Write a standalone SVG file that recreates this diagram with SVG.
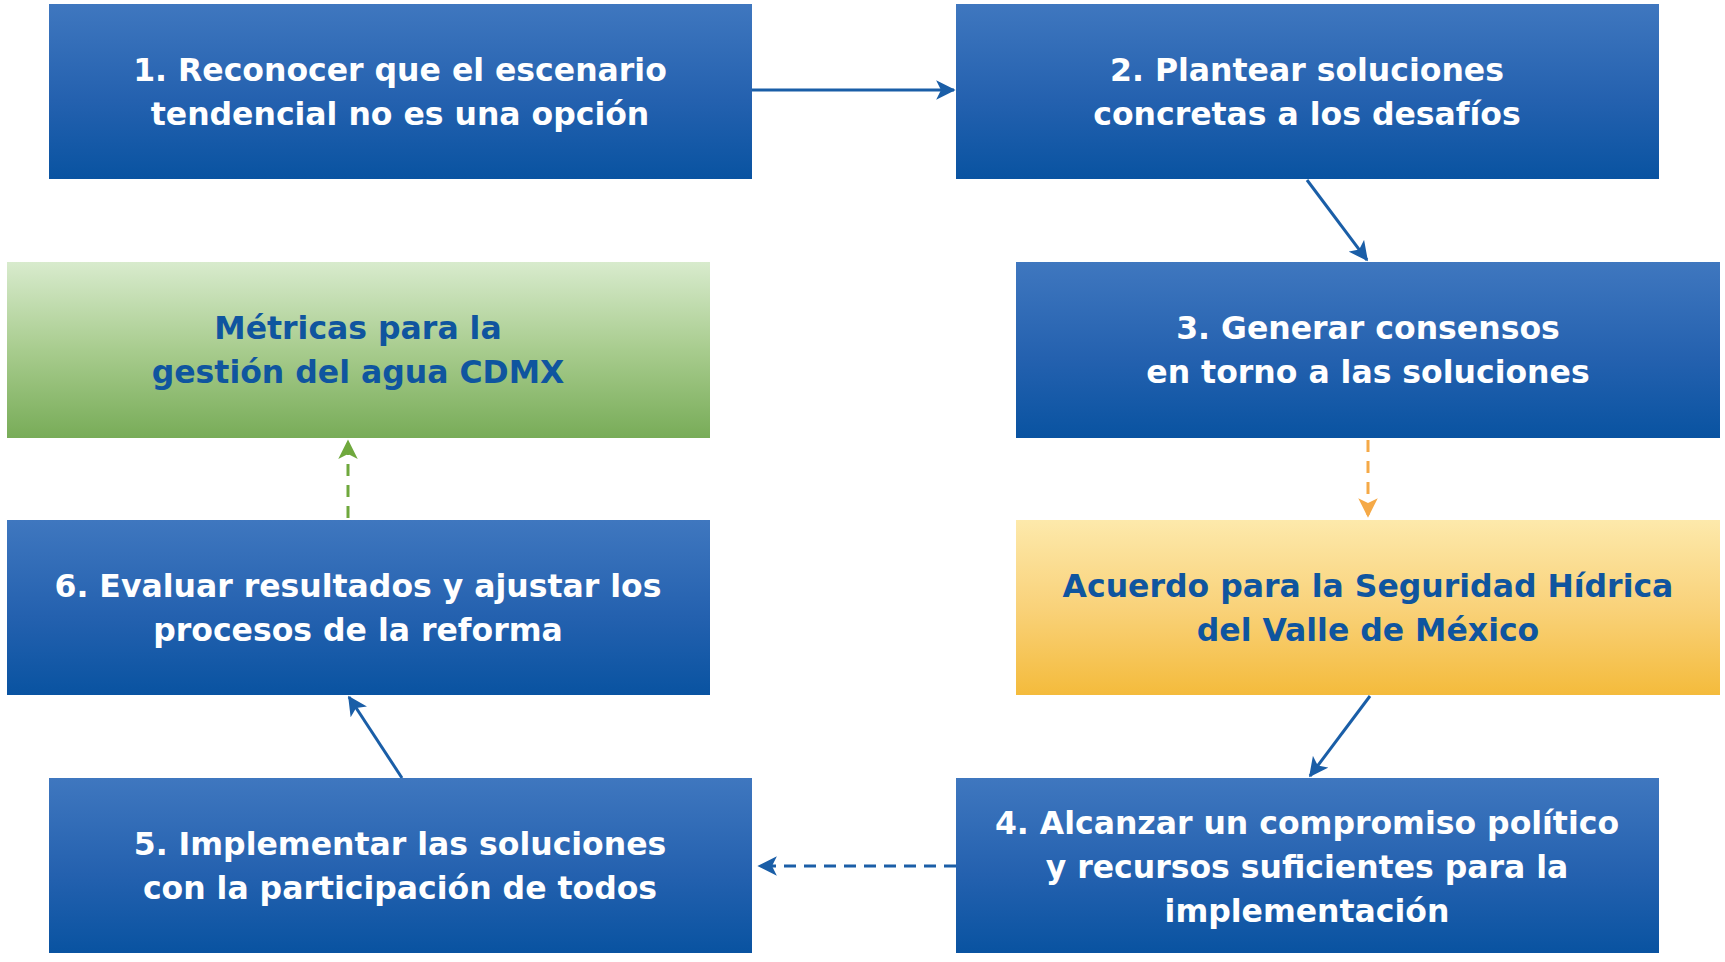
<svg xmlns="http://www.w3.org/2000/svg" width="1725" height="962" viewBox="0 0 1725 962">
<defs>
<linearGradient id="gBlue" x1="0" y1="0" x2="0" y2="1">
<stop offset="0" stop-color="#3f77bf"/>
<stop offset="0.55" stop-color="#2461af"/>
<stop offset="1" stop-color="#0953a1"/>
</linearGradient>
<linearGradient id="gGreen" x1="0" y1="0" x2="0" y2="1">
<stop offset="0" stop-color="#d8ebcd"/>
<stop offset="0.5" stop-color="#a8cc8e"/>
<stop offset="1" stop-color="#78ac58"/>
</linearGradient>
<linearGradient id="gYellow" x1="0" y1="0" x2="0" y2="1">
<stop offset="0" stop-color="#fde9ab"/>
<stop offset="0.5" stop-color="#f9d27a"/>
<stop offset="1" stop-color="#f4bb3c"/>
</linearGradient>
<marker id="aBlue" viewBox="0 0 12 12" refX="11" refY="6" markerWidth="6.5" markerHeight="6.5" orient="auto" markerUnits="strokeWidth">
<path d="M0,0 L12,6 L0,12 L3,6 Z" fill="#1a5ea7"/>
</marker>
<marker id="aOrange" viewBox="0 0 12 12" refX="11" refY="6" markerWidth="6.5" markerHeight="6.5" orient="auto" markerUnits="strokeWidth">
<path d="M0,0 L12,6 L0,12 L3,6 Z" fill="#f5a947"/>
</marker>
<marker id="aGreen" viewBox="0 0 12 12" refX="11" refY="6" markerWidth="6.5" markerHeight="6.5" orient="auto" markerUnits="strokeWidth">
<path d="M0,0 L12,6 L0,12 L3,6 Z" fill="#6fa83d"/>
</marker>
</defs>
<style>
.bx{fill:url(#gBlue)}
.gr{fill:url(#gGreen)}
.ye{fill:url(#gYellow)}
.t{font-family:"DejaVu Sans","Open Sans",sans-serif;font-weight:700;font-size:31.5px;text-anchor:middle}
.w{fill:#ffffff}
.b{fill:#0f559f}
.c{fill:none;stroke-width:3}
.cb{stroke:#1a5ea7}
.co{stroke:#f5a947;stroke-dasharray:12 9}
.cg{stroke:#6fa83d;stroke-dasharray:12 9}
.cd{stroke-dasharray:12 8}
</style>
<rect width="1725" height="962" fill="#ffffff"/>
<g id="connectors">
<line class="c cb" x1="752" y1="90" x2="954" y2="90" marker-end="url(#aBlue)"/>
<line class="c cb" x1="1307" y1="180" x2="1367" y2="260" marker-end="url(#aBlue)"/>
<line class="c co" x1="1368" y1="440" x2="1368" y2="516" marker-end="url(#aOrange)"/>
<line class="c cb" x1="1370" y1="696" x2="1310" y2="776" marker-end="url(#aBlue)"/>
<line class="c cb cd" x1="956" y1="866" x2="759" y2="866" marker-end="url(#aBlue)"/>
<line class="c cb" x1="402" y1="778" x2="349" y2="697" marker-end="url(#aBlue)"/>
<line class="c cg" x1="348" y1="518" x2="348" y2="441" marker-end="url(#aGreen)"/>
</g>
<g id="n1">
<rect class="bx" x="49" y="4" width="703" height="175"/>
<text class="t w" x="400" y="81">1. Reconocer que el escenario</text>
<text class="t w" x="400" y="125">tendencial no es una opción</text>
</g>
<g id="n2">
<rect class="bx" x="956" y="4" width="703" height="175"/>
<text class="t w" x="1307" y="81">2. Plantear soluciones</text>
<text class="t w" x="1307" y="125">concretas a los desafíos</text>
</g>
<g id="n3">
<rect class="bx" x="1016" y="262" width="704" height="176"/>
<text class="t w" x="1368" y="339">3. Generar consensos</text>
<text class="t w" x="1368" y="383">en torno a las soluciones</text>
</g>
<g id="nMetricas">
<rect class="gr" x="7" y="262" width="703" height="176"/>
<text class="t b" x="358" y="339">Métricas para la</text>
<text class="t b" x="358" y="383">gestión del agua CDMX</text>
</g>
<g id="n6">
<rect class="bx" x="7" y="520" width="703" height="175"/>
<text class="t w" x="358" y="597">6. Evaluar resultados y ajustar los</text>
<text class="t w" x="358" y="641">procesos de la reforma</text>
</g>
<g id="nAcuerdo">
<rect class="ye" x="1016" y="520" width="704" height="175"/>
<text class="t b" x="1368" y="597">Acuerdo para la Seguridad Hídrica</text>
<text class="t b" x="1368" y="641">del Valle de México</text>
</g>
<g id="n5">
<rect class="bx" x="49" y="778" width="703" height="175"/>
<text class="t w" x="400" y="855">5. Implementar las soluciones</text>
<text class="t w" x="400" y="899">con la participación de todos</text>
</g>
<g id="n4">
<rect class="bx" x="956" y="778" width="703" height="175"/>
<text class="t w" x="1307" y="834">4. Alcanzar un compromiso político</text>
<text class="t w" x="1307" y="878">y recursos suficientes para la</text>
<text class="t w" x="1307" y="922">implementación</text>
</g>
</svg>
